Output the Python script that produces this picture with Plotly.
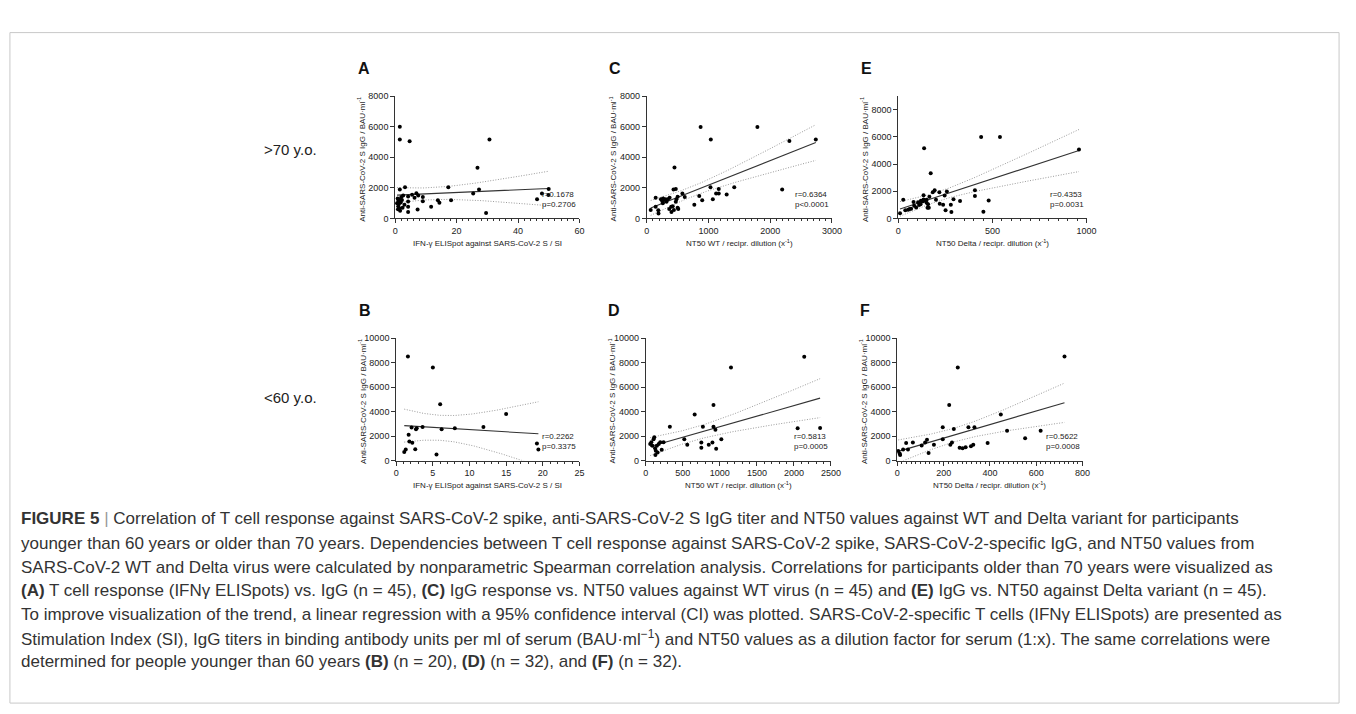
import numpy as np
import plotly.graph_objects as go

W, H = 1356, 714

# ---------------- data ----------------
# A: >70 y.o., IFN-γ ELISpot SI vs anti-S IgG (n = 45)
a_x = [1.5, 1.5, 4.7, 30.7, 26.8, 1.5, 3.2, 17.3, 27.3, 25.4, 50.0, 47.8, 49.9, 46.2, 29.6,
       18.2, 13.9, 14.4, 11.7, 9.0, 9.0, 6.9, 6.3, 7.3, 4.2, 4.2, 4.2, 4.2, 5.5, 0.8,
       1.0, 1.2, 1.0, 1.4, 1.6, 2.0, 2.2, 1.8, 2.4, 0.6, 1.3, 3.0, 2.6, 0.9, 7.5]
a_y = [6000, 5160, 5050, 5160, 3320, 1900, 2040, 2040, 1900, 1630, 1930, 1630, 1540, 1260, 350,
       1190, 1190, 1020, 760, 1410, 1130, 1650, 1350, 590, 1430, 1110, 760, 430, 1550, 1300,
       1150, 950, 800, 650, 500, 1400, 1200, 1050, 700, 1000, 1250, 900, 1500, 600, 1500]

# C: >70 y.o., NT50 WT vs anti-S IgG (n = 45)
c_x = [64, 144, 144, 187, 190, 230, 250, 265, 280, 300, 320, 364, 396, 400, 449,
       433, 470, 481, 500, 510, 577, 615, 500, 770, 850, 872, 898, 1032, 1037, 1070,
       1123, 1166, 1166, 1294, 1417, 1792, 2193, 2310, 2738, 340, 440, 260, 470, 370, 420]
c_y = [560, 760, 1350, 540, 330, 1250, 1150, 1300, 1200, 1250, 1100, 620, 760, 430, 3340,
       1900, 1920, 1250, 700, 620, 1630, 1410, 1420, 890, 1470, 5985, 1190, 2040, 5160, 1255,
       1630, 1630, 1930, 1560, 2040, 5985, 1890, 5070, 5160, 1250, 560, 1000, 1100, 1350, 800]

# E: >70 y.o., NT50 Delta vs anti-S IgG (n = 45)
e_x = [9, 26, 37, 52, 60, 68, 81, 84, 110, 118, 120, 128, 134, 140, 134,
       137, 150, 150, 155, 162, 158, 172, 183, 193, 200, 218, 220, 238, 246, 251,
       258, 279, 282, 293, 328, 407, 407, 440, 452, 480, 540, 960, 95, 105, 165]
e_y = [390, 1380, 610, 640, 700, 720, 1210, 940, 1000, 1050, 1300, 1250, 1400, 1300, 1700,
       5170, 1150, 1380, 780, 780, 1050, 3330, 1930, 2080, 1380, 1930, 1090, 1010, 1690, 600,
       1980, 1010, 470, 1420, 1280, 2080, 1650, 5990, 490, 1330, 5990, 5080, 800, 1200, 1600]

# B: <60 y.o., IFN-γ ELISpot SI vs anti-S IgG (n = 20)
b_x = [1.1, 1.3, 1.6, 1.7, 1.8, 2.2, 2.6, 2.7, 2.8, 3.6, 5.0, 5.5, 6.0, 6.2, 8.0,
       11.9, 15.0, 19.2, 19.4, 2.1]
b_y = [700, 900, 8500, 2100, 1550, 1450, 920, 2550, 2650, 2750, 7600, 500, 4600, 2550, 2650,
       2750, 3800, 1400, 900, 2700]

# D: <60 y.o., NT50 WT vs anti-S IgG (n = 32)
d_x = [325, 660, 914, 1150, 2139, 771, 914, 940, 2050, 2353,
       520, 560, 750, 750, 850, 900, 950, 1020,
       60, 75, 90, 105, 115, 125, 135, 150, 160, 175, 195, 215, 240, 130]
d_y = [2770, 3770, 4540, 7600, 8490, 2770, 2770, 2520, 2640, 2660,
       1740, 1300, 1480, 1040, 1300, 1480, 960, 1740,
       1350, 1500, 1200, 1750, 1900, 1000, 800, 1200, 650, 1350, 1500, 880, 1500, 450]

# F: <60 y.o., NT50 Delta vs anti-S IgG (n = 32)
f_x = [4, 10, 25, 38, 46, 67, 105, 120, 128, 135, 158, 196, 196, 229, 236, 244,
       269, 282, 295, 307, 318, 328, 333, 390, 474, 552, 619, 224, 261, 447, 722, 12]
f_y = [780, 570, 910, 1430, 910, 1480, 1220, 1480, 1690, 620, 1300, 2730, 1740, 1300, 1480, 2570,
       1040, 1010, 1090, 2730, 1170, 1300, 2730, 1430, 2440, 1820, 2440, 4540, 7600, 3770, 8500, 450]

# Spearman statistics printed on the panels
stats_r = {"A": "0.1678", "C": "0.6364", "E": "0.4353", "B": "0.2262", "D": "0.5813", "F": "0.5622"}
stats_p = {"A": "p=0.2706", "C": "p<0.0001", "E": "p=0.0031", "B": "p=0.3375", "D": "p=0.0005", "F": "p=0.0008"}

# two-sided 95% t quantiles for df = n - 2
t95 = {43: 2.017, 18: 2.101, 30: 2.042}

x_titles = {
    "IFN": "IFN-γ ELISpot against SARS-CoV-2 S / SI",
    "WT": "NT50 WT / recipr. dilution (x<sup>-1</sup>)",
    "DELTA": "NT50 Delta / recipr. dilution (x<sup>-1</sup>)",
}
y_title = "Anti-SARS-CoV-2 S IgG / BAU·ml<sup>-1</sup>"

# panel layout: pixel box (left, right, bottom, top), ranges, ticks
panels = [
    dict(key="A", x=a_x, y=a_y, box=(396, 582, 216.5, 92.5), xr=[0, 60], yr=[0, 8000],
         xd=20, xm=2, yd=2000, xt="IFN"),
    dict(key="C", x=c_x, y=c_y, box=(650, 837, 216.5, 92.5), xr=[0, 3000], yr=[0, 8000],
         xd=1000, xm=100, yd=2000, xt="WT"),
    dict(key="E", x=e_x, y=e_y, box=(904, 1094, 216.5, 92.5), xr=[0, 1000], yr=[0, 9000],
         xd=500, xm=50, yd=2000, xt="DELTA"),
    dict(key="B", x=b_x, y=b_y, box=(397, 582, 462, 338), xr=[0, 25], yr=[0, 10000],
         xd=5, xm=1, yd=2000, xt="IFN"),
    dict(key="D", x=d_x, y=d_y, box=(649, 836, 462, 338), xr=[0, 2500], yr=[0, 10000],
         xd=500, xm=100, yd=2000, xt="WT"),
    dict(key="F", x=f_x, y=f_y, box=(903, 1090, 462, 338), xr=[0, 800], yr=[0, 10000],
         xd=200, xm=20, yd=2000, xt="DELTA"),
]


def fx(px):
    return px / W


def fy(py):
    return 1 - py / H


fig = go.Figure()
annotations = []
TICKFONT = dict(family="Liberation Sans, Arial, sans-serif", size=9, color="#222")
AXC = "#333"

for i, p in enumerate(panels):
    n = i + 1
    xa = "x" if n == 1 else f"x{n}"
    ya = "y" if n == 1 else f"y{n}"
    l, r, b, t = p["box"]
    x = np.asarray(p["x"], float)
    y = np.asarray(p["y"], float)

    # linear regression with 95% CI of the mean
    nn = len(x)
    slope, icpt = np.polyfit(x, y, 1)
    resid = y - (icpt + slope * x)
    s = np.sqrt(np.sum(resid ** 2) / (nn - 2))
    xbar = x.mean()
    sxx = np.sum((x - xbar) ** 2)
    xs = np.linspace(x.min(), x.max(), 120)
    yh = icpt + slope * xs
    half = t95[nn - 2] * s * np.sqrt(1 / nn + (xs - xbar) ** 2 / sxx)

    for band in (yh + half, yh - half):
        fig.add_trace(go.Scatter(x=xs, y=band, mode="lines", xaxis=xa, yaxis=ya,
                                 line=dict(color="#9a9a9a", width=1, dash="1px,1.6px"),
                                 hoverinfo="skip", showlegend=False))
    fig.add_trace(go.Scatter(x=xs, y=yh, mode="lines", xaxis=xa, yaxis=ya,
                             line=dict(color="#333", width=1.1),
                             hoverinfo="skip", showlegend=False))
    fig.add_trace(go.Scatter(x=x, y=y, mode="markers", xaxis=xa, yaxis=ya,
                             marker=dict(color="black", size=4),
                             cliponaxis=False, showlegend=False))

    xkey = "xaxis" if n == 1 else f"xaxis{n}"
    ykey = "yaxis" if n == 1 else f"yaxis{n}"
    fig.update_layout(**{
        xkey: dict(domain=[fx(l), fx(r)], anchor=ya, range=p["xr"], showgrid=False,
                   zeroline=False, showline=True, linecolor=AXC, linewidth=1,
                   ticks="outside", ticklen=4, tickcolor=AXC, tickwidth=1,
                   dtick=p["xd"], tick0=0, tickfont=TICKFONT, tickformat="d",
                   minor=dict(ticks="outside", ticklen=2, tickcolor=AXC, dtick=p["xm"],
                              tick0=0, showgrid=False)),
        ykey: dict(domain=[fy(b), fy(t)], anchor=xa, range=p["yr"], showgrid=False,
                   zeroline=False, showline=True, linecolor=AXC, linewidth=1,
                   ticks="outside", ticklen=4, tickcolor=AXC, tickwidth=1,
                   dtick=p["yd"], tick0=0, tickfont=TICKFONT, tickformat="d"),
    })

    # panel letter
    annotations.append(dict(text=f"<b>{p['key']}</b>", x=fx(l - 40), y=fy(t - 28),
                            xref="paper", yref="paper", showarrow=False,
                            xanchor="left", yanchor="middle",
                            font=dict(family="Liberation Sans, Arial", size=16, color="#111")))
    # y title
    annotations.append(dict(text=y_title, x=fx(l - 34), y=fy((b + t) / 2 + 2),
                            xref="paper", yref="paper", showarrow=False, textangle=-90,
                            xanchor="center", yanchor="middle",
                            font=dict(family="Liberation Sans, Arial", size=8, color="#222")))
    # x title
    annotations.append(dict(text=x_titles[p["xt"]], x=fx((l + r) / 2), y=fy(b + 25),
                            xref="paper", yref="paper", showarrow=False,
                            xanchor="center", yanchor="middle",
                            font=dict(family="Liberation Sans, Arial", size=8, color="#222")))
    # statistics
    annotations.append(dict(text=f"r={stats_r[p['key']]}<br>{stats_p[p['key']]}",
                            x=fx(r - 1), y=fy(b - 8), xref="paper", yref="paper",
                            showarrow=False, xanchor="right", yanchor="bottom", align="left",
                            font=dict(family="Liberation Sans, Arial", size=8, color="#222")))

# row labels
for txt, py in ((">70 y.o.", 147), ("<60 y.o.", 398)):
    annotations.append(dict(text=txt, x=fx(290), y=fy(py), xref="paper", yref="paper",
                            showarrow=False, xanchor="center", yanchor="middle",
                            font=dict(family="Liberation Sans, Arial, sans-serif", size=15,
                                      color="#222")))

caption_lines = [
    "<b>FIGURE 5</b> <span style='color:#999'>|</span> Correlation of T cell response against SARS-CoV-2 spike, anti-SARS-CoV-2 S IgG titer and NT50 values against WT and Delta variant for participants",
    "younger than 60 years or older than 70 years. Dependencies between T cell response against SARS-CoV-2 spike, SARS-CoV-2-specific IgG, and NT50 values from",
    "SARS-CoV-2 WT and Delta virus were calculated by nonparametric Spearman correlation analysis. Correlations for participants older than 70 years were visualized as",
    "<b>(A)</b> T cell response (IFNγ ELISpots) vs. IgG (n = 45), <b>(C)</b> IgG response vs. NT50 values against WT virus (n = 45) and <b>(E)</b> IgG vs. NT50 against Delta variant (n = 45).",
    "To improve visualization of the trend, a linear regression with a 95% confidence interval (CI) was plotted. SARS-CoV-2-specific T cells (IFNγ ELISpots) are presented as",
    "Stimulation Index (SI), IgG titers in binding antibody units per ml of serum (BAU·ml<sup>−1</sup>) and NT50 values as a dilution factor for serum (1:x). The same correlations were",
    "determined for people younger than 60 years <b>(B)</b> (n = 20), <b>(D)</b> (n = 32), and <b>(F)</b> (n = 32).",
]
caption_y = [521, 546, 570, 594, 618, 642, 666]
for txt, py in zip(caption_lines, caption_y):
    annotations.append(dict(text=txt, x=fx(16), y=fy(py), xref="paper", yref="paper",
                            showarrow=False, xanchor="left", yanchor="middle", align="left",
                            font=dict(family="Liberation Sans, Arial, sans-serif", size=17,
                                      color="#333")))

fig.update_layout(
    width=W, height=H,
    margin=dict(l=0, r=0, t=0, b=0),
    paper_bgcolor="white", plot_bgcolor="white",
    showlegend=False,
    annotations=annotations,
    shapes=[dict(type="rect", xref="paper", yref="paper", x0=fx(7), x1=fx(1349),
                 y0=fy(708), y1=fy(28), line=dict(color="#c8c8c8", width=1))],
)

fig.write_html("out.html", config={"displayModeBar": False},
               post_script="document.body.style.margin='0';")
